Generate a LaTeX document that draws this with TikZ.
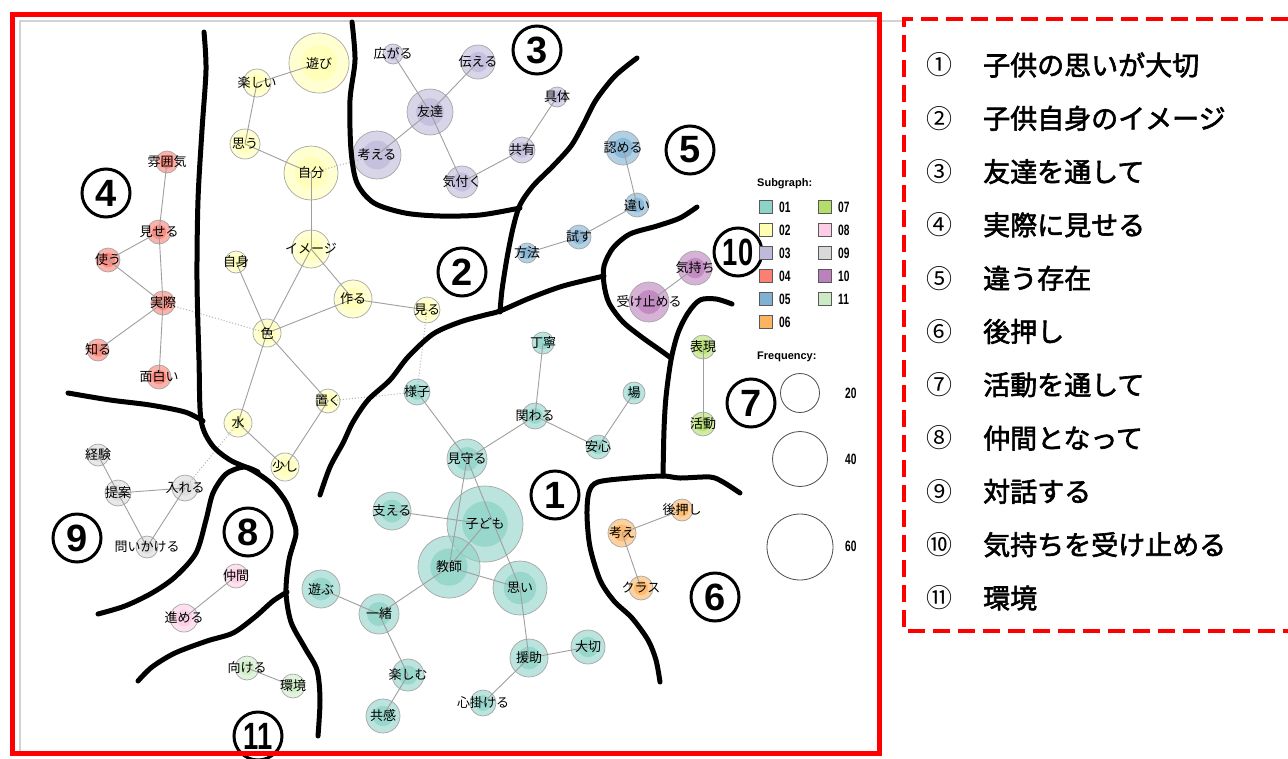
\documentclass[tikz,border=0pt]{standalone}
\usepackage{fontspec}
\setmainfont{Liberation Sans}
\newfontfamily\jp{Noto Sans CJK JP}
\newfontfamily\jpb[FakeBold=2.2]{Noto Sans CJK JP}
\newfontfamily\lgd{Liberation Sans}
\pgfdeclarelayer{bg}
\pgfdeclarelayer{back}
\pgfdeclarelayer{mid}
\pgfsetlayers{bg,back,mid,main}
\definecolor{c01}{HTML}{8DD3C7}
\definecolor{c02}{HTML}{FFFFB3}
\definecolor{c03}{HTML}{BEBADA}
\definecolor{c04}{HTML}{FB8072}
\definecolor{c05}{HTML}{80B1D3}
\definecolor{c06}{HTML}{FDB462}
\definecolor{c07}{HTML}{B3DE69}
\definecolor{c08}{HTML}{FCCDE5}
\definecolor{c09}{HTML}{D9D9D9}
\definecolor{c10}{HTML}{BC80BD}
\definecolor{c11}{HTML}{CCEBC5}
\definecolor{redframe}{HTML}{FF0000}
\tikzset{
  lbl/.style={inner sep=0pt, font=\jp\fontsize{13}{13}\selectfont},
  edge/.style={draw=gray!75, line width=0.9pt},
  dotedge/.style={draw=gray!60, line width=1pt, dash pattern=on 1pt off 2pt},
  region/.style={line width=5pt, line cap=round, line join=round},
  regnum/.style={circle, draw, line width=3pt, minimum size=48pt, inner sep=0pt, font=\lgd\bfseries\fontsize{38}{38}\selectfont},
  listnum/.style={inner sep=0pt, font=\jp\fontsize{26}{26}\selectfont},
  listtxt/.style={inner sep=0pt, anchor=west, font=\jpb\fontsize{27}{27}\selectfont},
  sq/.style={draw=gray!70!black, line width=0.6pt, minimum size=13pt, inner sep=0pt},
  lgdnum/.style={inner sep=0pt, anchor=west, font=\lgd\bfseries\fontsize{15}{15}\selectfont},
  lgdtitle/.style={inner sep=0pt, anchor=west, font=\lgd\bfseries\fontsize{11}{11}\selectfont},
  freq/.style={circle, draw=black!70, line width=0.8pt, inner sep=0pt}
}
\newcommand\kw[6]{%
  \begin{pgfonlayer}{back}
    \fill[#5, fill opacity=0.6] (#2,#3) circle (#4);
    \fill[#5, fill opacity=0.75] (#2,#3) circle ({0.6*#4});
    \draw[gray!70, line width=0.7pt] (#2,#3) circle (#4);
  \end{pgfonlayer}
  \node[lbl] (#1) at (#2,#3) {#6};}
\newcommand\ed[2]{\begin{pgfonlayer}{mid}\draw[edge] (#1.center) -- (#2.center);\end{pgfonlayer}}
\newcommand\dd[2]{\begin{pgfonlayer}{mid}\draw[dotedge] (#1.center) -- (#2.center);\end{pgfonlayer}}
\begin{document}
\begin{tikzpicture}[x=1pt,y=-1pt]
\useasboundingbox (0,0) rectangle (1288,758);
\begin{pgfonlayer}{bg}
\fill[white] (0,0) rectangle (1288,758);
\draw[gray!35, line width=2pt] (20,753) -- (20,21) -- (902,21);
\end{pgfonlayer}

% ---------- group 01
\kw{teinei}{543}{343}{11}{c01}{丁寧}
\kw{yousu}{417}{392}{13}{c01}{様子}
\kw{ba}{634}{393}{11}{c01}{場}
\kw{kakawaru}{535}{416}{13}{c01}{関わる}
\kw{anshin}{598}{447}{12}{c01}{安心}
\kw{mimamoru}{467}{459}{20}{c01}{見守る}
\kw{sasaeru}{392}{511}{19}{c01}{支える}
\kw{kodomo}{485}{524}{38}{c01}{子ども}
\kw{kyoushi}{449}{567}{31}{c01}{教師}
\kw{omoi}{520}{588}{27}{c01}{思い}
\kw{asobu}{321}{589}{19}{c01}{遊ぶ}
\kw{issho}{379}{614}{20}{c01}{一緒}
\kw{tanoshimu}{408}{675}{16}{c01}{楽しむ}
\kw{kyoukan}{383}{716}{17}{c01}{共感}
\kw{enjo}{529}{658}{19}{c01}{援助}
\kw{taisetsu}{588}{647}{17}{c01}{大切}
\kw{kokorogake}{483}{703}{13}{c01}{心掛ける}
% ---------- group 02
\kw{asobi}{319}{63}{30}{c02}{遊び}
\kw{tanoshii}{257}{83}{14}{c02}{楽しい}
\kw{omou}{245}{144}{15}{c02}{思う}
\kw{jibun}{311}{173}{27}{c02}{自分}
\kw{image}{311}{249}{19}{c02}{イメージ}
\kw{jishin}{236}{262}{11}{c02}{自身}
\kw{tsukuru}{353}{299}{19}{c02}{作る}
\kw{miru}{427}{310}{13}{c02}{見る}
\kw{iro}{267}{333}{14}{c02}{色}
\kw{oku}{328}{401}{12}{c02}{置く}
\kw{mizu}{238}{423}{14}{c02}{水}
\kw{sukoshi}{285}{467}{14}{c02}{少し}
% ---------- group 03
\kw{hirogaru}{393}{54}{10}{c03}{広がる}
\kw{tsutaeru}{478}{62}{17}{c03}{伝える}
\kw{tomodachi}{430}{112}{23}{c03}{友達}
\kw{kangaeru}{377}{155}{24}{c03}{考える}
\kw{kizuku}{462}{182}{16}{c03}{気付く}
\kw{gutai}{557}{97}{10}{c03}{具体}
\kw{kyouyuu}{522}{150}{13}{c03}{共有}
% ---------- group 04
\kw{funiki}{167}{162}{11}{c04}{雰囲気}
\kw{miseru}{159}{232}{12}{c04}{見せる}
\kw{tsukau}{108}{260}{12}{c04}{使う}
\kw{jissai}{163}{303}{12}{c04}{実際}
\kw{shiru}{98}{350}{11}{c04}{知る}
\kw{omoshiroi}{159}{377}{12}{c04}{面白い}
% ---------- group 05
\kw{mitomeru}{623}{148}{17}{c05}{認める}
\kw{chigai}{637}{205}{12}{c05}{違い}
\kw{tamesu}{579}{237}{12}{c05}{試す}
\kw{houhou}{527}{253}{10}{c05}{方法}
% ---------- group 06
\kw{atooshi}{682}{510}{11}{c06}{後押し}
\kw{kangae}{622}{533}{14}{c06}{考え}
\kw{class}{641}{588}{12}{c06}{クラス}
% ---------- group 07
\kw{hyougen}{703}{347}{12}{c07}{表現}
\kw{katsudou}{703}{424}{12}{c07}{活動}
% ---------- group 08
\kw{nakama}{236}{576}{12}{c08}{仲間}
\kw{susumeru}{184}{618}{14}{c08}{進める}
% ---------- group 09
\kw{keiken}{98}{455}{11}{c09}{経験}
\kw{teian}{118}{493}{13}{c09}{提案}
\kw{ireru}{185}{488}{13}{c09}{入れる}
\kw{toikakeru}{147}{547}{11}{c09}{問いかける}
% ---------- group 10
\kw{kimochi}{695}{268}{17}{c10}{気持ち}
\kw{uketomeru}{649}{302}{20}{c10}{受け止める}
% ---------- group 11
\kw{mukeru}{247}{668}{12}{c11}{向ける}
\kw{kankyou}{293}{686}{12}{c11}{環境}

% ---------- edges
\ed{teinei}{kakawaru}\ed{kakawaru}{mimamoru}\ed{kakawaru}{anshin}\ed{anshin}{ba}
\ed{yousu}{mimamoru}\ed{mimamoru}{kyoushi}\ed{mimamoru}{omoi}\ed{sasaeru}{kodomo}
\ed{kodomo}{kyoushi}\ed{kyoushi}{omoi}\ed{kyoushi}{issho}\ed{asobu}{issho}
\ed{issho}{tanoshimu}\ed{tanoshimu}{kyoukan}\ed{omoi}{enjo}\ed{enjo}{taisetsu}\ed{enjo}{kokorogake}
\ed{asobi}{tanoshii}\ed{tanoshii}{omou}\ed{omou}{jibun}\ed{jibun}{image}\ed{image}{iro}
\ed{image}{tsukuru}\ed{jishin}{iro}\ed{tsukuru}{iro}\ed{tsukuru}{miru}\ed{iro}{oku}
\ed{iro}{mizu}\ed{mizu}{sukoshi}\ed{sukoshi}{oku}
\ed{hirogaru}{tomodachi}\ed{tsutaeru}{tomodachi}\ed{tomodachi}{kangaeru}\ed{tomodachi}{kizuku}
\ed{kizuku}{kyouyuu}\ed{kyouyuu}{gutai}
\ed{funiki}{miseru}\ed{miseru}{tsukau}\ed{miseru}{jissai}\ed{tsukau}{jissai}\ed{jissai}{shiru}\ed{jissai}{omoshiroi}
\ed{mitomeru}{chigai}\ed{chigai}{tamesu}\ed{tamesu}{houhou}
\ed{kangae}{atooshi}\ed{kangae}{class}
\ed{hyougen}{katsudou}
\ed{nakama}{susumeru}
\ed{keiken}{teian}\ed{teian}{ireru}\ed{teian}{toikakeru}\ed{ireru}{toikakeru}
\ed{kimochi}{uketomeru}
\ed{mukeru}{kankyou}
\dd{jissai}{iro}\dd{miru}{yousu}\dd{oku}{yousu}\dd{mizu}{ireru}\dd{jibun}{kangaeru}

% ---------- region boundaries
\draw[region] plot[smooth, tension=0.5] coordinates {(204,32) (206,70) (202,130) (198,200) (197,280) (199,360) (201,420) (212,445) (230,460) (252,470) (272,484) (286,502) (293,520) (296,534) (289,560) (286,592) (291,622) (305,648) (317,670) (320,700) (318,736)};
\draw[region] plot[smooth, tension=0.5] coordinates {(68,393) (110,400) (150,405) (185,412) (203,421)};
\draw[region] plot[smooth, tension=0.5] coordinates {(98,614) (125,606) (152,593) (175,577) (196,553) (206,520) (213,493) (226,474) (244,467) (258,472)};
\draw[region] plot[smooth, tension=0.5] coordinates {(138,681) (152,667) (175,653) (207,641) (233,633) (255,617) (273,601) (287,592)};
\draw[region] plot[smooth, tension=0.5] coordinates {(352,22) (355,60) (350,100) (351,150) (357,183) (374,203) (405,213) (440,216) (480,215) (520,208)};
\draw[region] plot[smooth, tension=0.5] coordinates {(637,58) (615,76) (596,100) (583,125) (571,146) (553,166) (533,186) (520,205) (513,228) (507,258) (502,290) (500,312)};
\draw[region] plot[smooth, tension=0.5] coordinates {(320,495) (330,467) (343,443) (353,422) (368,400) (390,380) (408,357) (433,334) (460,322) (485,315) (500,311) (530,298) (563,286) (604,276)};
\draw[region] plot[smooth, tension=0.5] coordinates {(697,207) (680,218) (657,226) (630,234) (613,248) (604,266) (604,284) (609,303) (623,322) (643,338) (660,350) (671,358)};
\draw[region] plot[smooth, tension=0.5] coordinates {(732,304) (716,299) (700,300) (688,313) (678,333) (671,360) (666,397) (664,430) (663,476)};
\draw[region] plot[smooth, tension=0.5] coordinates {(740,493) (723,482) (710,477) (680,478) (663,476) (630,478) (598,482) (589,492) (587,515) (590,547) (600,580) (614,601) (632,618) (648,640) (656,660) (660,682)};

% ---------- region numbers
\node[regnum] (n1) at (555,495) {1};
\node[regnum] (n2) at (462,272) {2};
\node[regnum] (n3) at (537,50) {3};
\node[regnum] (n4) at (106,193) {4};
\node[regnum] (n5) at (690,150) {5};
\node[regnum] (n6) at (715,597) {6};
\node[regnum] (n7) at (751,403) {7};
\node[regnum] (n8) at (248,532) {8};
\node[regnum] (n9) at (77,538) {9};
\node[regnum] (n10) at (738,252) {\scalebox{0.72}[1]{10}};
\node[regnum] (n11) at (258,736) {\scalebox{0.72}[1]{11}};

% ---------- legend
\node[lgdtitle] (sgtitle) at (757,184) {Subgraph:};
\foreach \c/\x/\y in {01/766/207,02/766/230,03/766/253,04/766/276,05/766/299,06/766/322,07/825/207,08/825/230,09/825/253,10/825/276,11/825/299}{
  \node[sq, fill=c\c] (sq\c) at (\x,\y) {};
  \node[lgdnum] (sl\c) at (\x+13,\y) {\scalebox{0.68}[1]{\c}};
}
\node[lgdtitle] (frtitle) at (757,357) {Frequency:};
\node[freq, minimum size=39pt] (f20) at (800,393) {};
\node[freq, minimum size=55pt] (f40) at (800,459) {};
\node[freq, minimum size=66pt] (f60) at (800,547) {};
\node[lgdnum] (t20) at (845,393) {\scalebox{0.68}[1]{20}};
\node[lgdnum] (t40) at (845,459) {\scalebox{0.68}[1]{40}};
\node[lgdnum] (t60) at (845,546) {\scalebox{0.68}[1]{60}};

% ---------- list
\foreach \n/\t [count=\i] in {①/子供の思いが大切,②/子供自身のイメージ,③/友達を通して,④/実際に見せる,⑤/違う存在,⑥/後押し,⑦/活動を通して,⑧/仲間となって,⑨/対話する,⑩/気持ちを受け止める,⑪/環境}{
  \node[listnum] (ln\i) at (939,{65+(\i-1)*53.3}) {\n};
  \node[listtxt] (lt\i) at (983,{65+(\i-1)*53.3}) {\t};
}

% ---------- frames
\draw[redframe, line width=5pt] (12,14) rectangle (879,753);
\draw[redframe, line width=4.5pt, dash pattern=on 17pt off 8pt] (1288,19) -- (904,19) -- (904,631) -- (1288,631);
\end{tikzpicture}
\end{document}
